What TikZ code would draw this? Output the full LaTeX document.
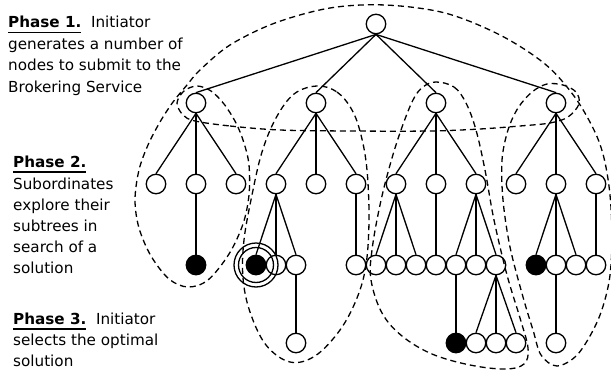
\documentclass[tikz,border=0pt]{standalone}
\usepackage{fontspec}
\setmainfont{DejaVu Sans}
% bold heading with a rule set a little below the baseline
\newcommand\phasehead[1]{\setbox0\hbox{\bfseries #1}\rlap{\rule[-5.5pt]{\wd0}{1.4pt}}\box0}
\begin{document}
\begin{tikzpicture}[x=1pt,y=-1pt,
  tn/.style={circle,draw,line width=1.3pt,minimum size=19.5pt,inner sep=0pt},
  sol/.style={tn,fill=black},
  edge/.style={line width=1.3pt},
  region/.style={line width=1.3pt,dash pattern=on 6pt off 4pt,line join=round},
  txt/.style={anchor=base west,inner sep=0pt,font=\fontsize{15.2}{18}\selectfont}]
\useasboundingbox (0,0) rectangle (611,375);

% ---- search tree ----
\node[tn] (r) at (376,24) {};
% level 1
\node[tn] (a) at (196,103) {};
\node[tn] (b) at (316,103) {};
\node[tn] (c) at (436,103) {};
\node[tn] (d) at (556,103) {};
% level 2
\node[tn] (a1) at (156,184) {};
\node[tn] (a2) at (196,184) {};
\node[tn] (a3) at (236,184) {};
\node[tn] (b1) at (276,184) {};
\node[tn] (b2) at (316,184) {};
\node[tn] (b3) at (356,184) {};
\node[tn] (c1) at (396,184) {};
\node[tn] (c2) at (436,184) {};
\node[tn] (c3) at (476,184) {};
\node[tn] (d1) at (516,184) {};
\node[tn] (d2) at (556,184) {};
\node[tn] (d3) at (596,184) {};
% level 3
\node[sol] (a21) at (196,265) {};
\node[sol] (b11) at (256,265) {};
\node[tn] (b12) at (276,265) {};
\node[tn] (b13) at (296,265) {};
\node[tn] (b31) at (356,265) {};
\node[tn] (c11) at (376,265) {};
\node[tn] (c12) at (396,265) {};
\node[tn] (c13) at (416,265) {};
\node[tn] (c21) at (436,265) {};
\node[tn] (c31) at (456,265) {};
\node[tn] (c32) at (476,265) {};
\node[tn] (c33) at (496,265) {};
\node[sol] (d21) at (536,265) {};
\node[tn] (d22) at (556,265) {};
\node[tn] (d23) at (576,265) {};
\node[tn] (d31) at (596,265) {};
% level 4
\node[tn] (b131) at (296,343) {};
\node[sol] (c311) at (456,343) {};
\node[tn] (c331) at (476,343) {};
\node[tn] (c332) at (496,343) {};
\node[tn] (c333) at (516,343) {};
\node[tn] (d221) at (556,343) {};

% parent-to-child links
\foreach \p/\k in {r/a,r/b,r/c,r/d,
  a/a1,a/a2,a/a3,b/b1,b/b2,b/b3,c/c1,c/c2,c/c3,d/d1,d/d2,d/d3,
  a2/a21,b1/b11,b1/b12,b1/b13,b13/b131,b3/b31,
  c1/c11,c1/c12,c1/c13,c2/c21,c3/c31,c3/c32,c3/c33,c31/c311,
  c33/c331,c33/c332,c33/c333,d2/d21,d2/d22,d2/d23,d3/d31,d22/d221}
  \draw[edge] (\p.south) -- (\k.north);

% optimal solution marker
\draw[edge] (b11.center) circle[radius=17.5pt];
\draw[edge] (b11.center) circle[radius=22pt];

% ---- dashed regions ----
% outer outline: brokered nodes, first and last subtree
\draw[region] plot[smooth cycle,tension=0.55] coordinates {
  (195,121) (230,126) (280,130) (350,131) (430,131) (480,129) (520,126)
  (550,123) (568,117) (579,104) (576,92) (563,85) (547,84) (532,92)
  (518,108) (508,130) (502,160) (503,200) (510,247) (523,297) (533,330)
  (541,355) (557,366) (578,354) (598,320) (609,282) (612,240) (610,195)
  (604,158) (594,130) (574,96) (545,64) (500,35) (445,13) (385,5)
  (330,8) (275,23) (230,45) (200,70) (187,85) (173,102) (160,122)
  (148,145) (139,170) (135,200) (139,228) (151,256) (169,279) (188,287)
  (208,280) (229,254) (243,224) (249,195) (249,165) (244,143) (236,123)
  (224,104) (211,91) (197,86) (184,91) (177,103) (183,115)};
% second subtree
\draw[region] plot[smooth cycle,tension=0.6] coordinates {
  (317,86) (337,92) (352,110) (361,135) (367,170) (369,220) (366,265)
  (357,298) (340,330) (315,356) (290,362) (266,345) (250,312) (243,278)
  (244,240) (252,195) (262,152) (276,118) (294,94)};
% third subtree
\draw[region] plot[smooth cycle,tension=0.6] coordinates {
  (436,82) (454,87) (466,103) (476,130) (485,170) (494,220) (507,275)
  (520,318) (528,348) (524,364) (505,369) (470,365) (432,354) (402,336)
  (382,313) (371,280) (372,250) (380,205) (390,165) (401,130) (413,100)
  (423,87)};

% ---- phase descriptions ----
\node[txt] (p1a) at (8,27.5) {\phasehead{Phase 1.}\ \ Initiator};
\node[txt] (p1b) at (8,49) {generates a number of};
\node[txt] (p1c) at (8,70.5) {nodes to submit to the};
\node[txt] (p1d) at (8,92) {Brokering Service};

\node[txt] (p2a) at (13,167) {\phasehead{Phase 2.}};
\node[txt] (p2b) at (13,189.5) {Subordinates};
\node[txt] (p2c) at (13,210.5) {explore their};
\node[txt] (p2d) at (13,231) {subtrees in};
\node[txt] (p2e) at (13,252) {search of a};
\node[txt] (p2f) at (13,273) {solution};

\node[txt] (p3a) at (13,324) {\phasehead{Phase 3.}\ \ Initiator};
\node[txt] (p3b) at (13,345) {selects the optimal};
\node[txt] (p3c) at (13,366.5) {solution};
\end{tikzpicture}
\end{document}
